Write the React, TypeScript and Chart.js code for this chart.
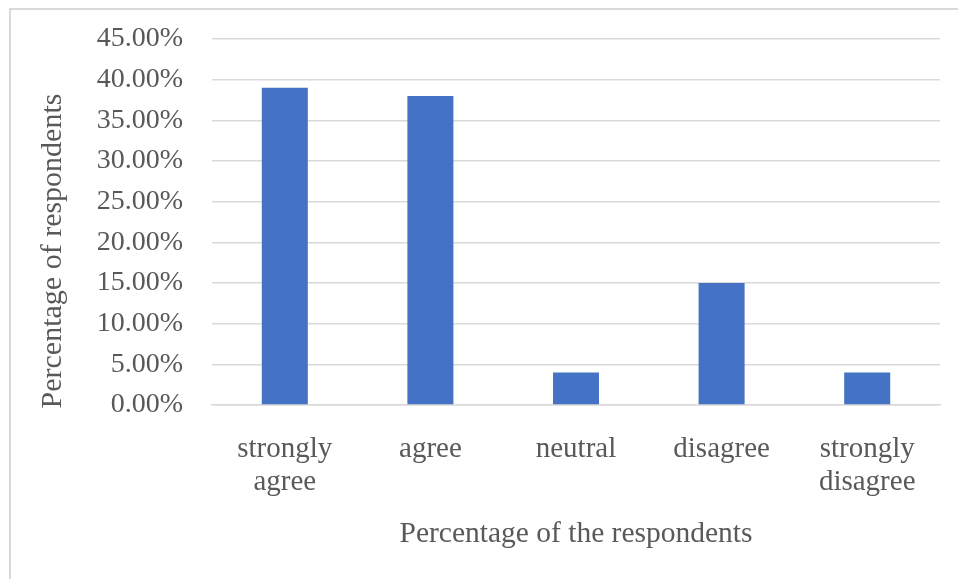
import React, { useEffect, useRef } from "react";
import { Chart, registerables } from "chart.js";

Chart.register(...registerables);

const categories: string[][] = [["strongly", "agree"], ["agree"], ["neutral"], ["disagree"], ["strongly", "disagree"]];
const percentages: number[] = [39, 38, 4, 15, 4];
const yMin = 0;
const yMax = 45;
const yStep = 5;
const xTitle = "Percentage of the respondents";
const yTitle = "Percentage of respondents";

const FONT = "'Liberation Serif', 'Times New Roman', serif";
const TEXT = "#595959";
const GRID = "#d9d9d9";

const yTitlePlugin = {
  id: "yTitlePlugin",
  afterDraw(chart: any) {
    const { ctx, chartArea } = chart;
    ctx.save();
    ctx.fillStyle = TEXT;
    ctx.font = `30px ${FONT}`;
    ctx.textAlign = "center";
    ctx.textBaseline = "middle";
    ctx.translate(53, (chartArea.top + chartArea.bottom) / 2 + 29);
    ctx.rotate(-Math.PI / 2);
    ctx.fillText(yTitle, 0, 0);
    ctx.restore();
  },
};

export default function App() {
  const ref = useRef<HTMLCanvasElement | null>(null);
  useEffect(() => {
    if (!ref.current) return;
    const chart = new Chart(ref.current, {
      type: "bar",
      data: {
        labels: categories,
        datasets: [
          {
            data: percentages,
            backgroundColor: "#4472c4",
            borderWidth: 0,
            categoryPercentage: 1,
            barPercentage: 0.316,
          },
        ],
      },
      options: {
        animation: false,
        responsive: false,
        devicePixelRatio: 1,
        layout: { padding: { left: 0, top: 39, right: 18, bottom: 0 } },
        plugins: { legend: { display: false }, tooltip: { enabled: false } },
        scales: {
          x: {
            grid: { display: false, drawTicks: false },
            border: { display: true, color: GRID, width: 1.5 },
            ticks: {
              color: TEXT,
              font: { family: FONT, size: 29, lineHeight: 1.14 },
              padding: 28,
              maxRotation: 0,
              autoSkip: false,
            },
            title: {
              display: true,
              text: xTitle,
              color: TEXT,
              font: { family: FONT, size: 29.5, lineHeight: 1.14 },
              padding: { top: 0, bottom: 28 },
            },
            afterFit: (scale: any) => {
              scale.height = 174;
              scale.paddingLeft = 0;
              scale.paddingRight = 0;
            },
          },
          y: {
            min: yMin,
            max: yMax,
            grid: { color: GRID, lineWidth: 1.5, drawTicks: false },
            border: { display: false },
            ticks: {
              stepSize: yStep,
              color: TEXT,
              font: { family: FONT, size: 28 },
              padding: 29,
              callback: (v: any) => Number(v).toFixed(2) + "%",
            },
            afterFit: (scale: any) => {
              scale.width = 212;
              scale.paddingTop = 0;
              scale.paddingBottom = 0;
            },
          },
        },
      },
      plugins: [yTitlePlugin],
    });
    return () => chart.destroy();
  }, []);

  return (
    <div style={{ position: "fixed", left: 0, top: 0, width: 958, height: 579, background: "#fff", overflow: "hidden" }}>
      <div
        style={{
          position: "absolute",
          left: 9,
          top: 8,
          width: 1000,
          height: 700,
          borderLeft: `2px solid ${GRID}`,
          borderTop: `2px solid ${GRID}`,
        }}
      />
      <canvas ref={ref} width={958} height={579} style={{ position: "absolute", left: 0, top: 0 }} />
    </div>
  );
}
